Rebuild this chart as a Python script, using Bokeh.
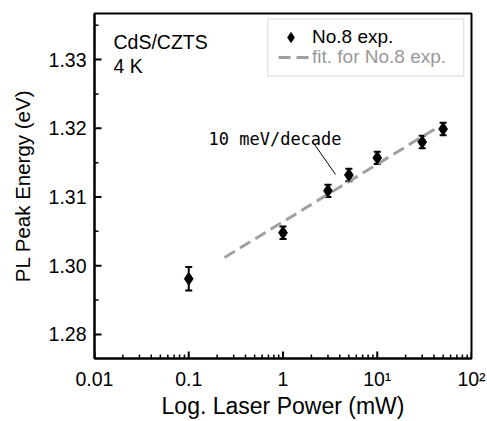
import math
from bokeh.plotting import figure
from bokeh.models import (ColumnDataSource, Whisker, TeeHead, Legend, LegendItem,
                          Label, Arrow, BoxAnnotation, FixedTicker, Range1d)
from bokeh.embed import file_html
from bokeh.resources import INLINE

# ---- data ----
power_mw = [0.1, 1, 3, 5, 10, 30, 50]
peak_ev = [1.2981, 1.3048, 1.3109, 1.3132, 1.3157, 1.3180, 1.3199]
err_ev = [0.0017, 0.0009, 0.0009, 0.0009, 0.0009, 0.0009, 0.0009]

fit_power_mw = [0.24, 42.0]
fit_ev = [1.3012, 1.3200]

x_tick_values = [0.01, 0.1, 1, 10, 100]
x_tick_labels = ["0.01", "0.1", "1", "10\u00b9", "10\u00b2"]
y_tick_values = [1.29, 1.30, 1.31, 1.32, 1.33]
y_tick_labels = ["1.28", "1.30", "1.31", "1.32", "1.33"]
y_minor_values = [1.295, 1.305, 1.315, 1.325, 1.335]

series_label = "No.8 exp."
fit_label = "fit. for No.8 exp."
sample_text = ["CdS/CZTS", "4 K"]
slope_text = "10 meV/decade"

FONT = "Liberation Sans"
GRAY = "#a0a0a0"

src = ColumnDataSource(dict(
    x=power_mw, y=peak_ev,
    upper=[v + e for v, e in zip(peak_ev, err_ev)],
    lower=[v - e for v, e in zip(peak_ev, err_ev)],
))

xr = Range1d(0.01, 100)
yr = Range1d(1.2865, 1.3367)
p = figure(width=487, height=421, x_axis_type="log", x_range=xr, y_range=yr,
           output_backend="svg", toolbar_location=None,
           min_border_left=94, min_border_right=16,
           min_border_top=13, min_border_bottom=62)
p.xgrid.visible = False
p.ygrid.visible = False
p.outline_line_color = "black"
p.outline_line_width = 2
p.outline_line_alpha = 1
p.background_fill_color = "white"
p.border_fill_color = "white"

x_minor = [m * 10.0 ** e for e in range(-2, 2) for m in range(2, 10)]
p.xaxis.ticker = FixedTicker(ticks=x_tick_values, minor_ticks=x_minor)
p.yaxis.ticker = FixedTicker(ticks=y_tick_values, minor_ticks=y_minor_values)
p.xaxis.major_label_overrides = dict(zip(x_tick_values, x_tick_labels))
p.yaxis.major_label_overrides = dict(zip(y_tick_values, y_tick_labels))

for ax in (p.xaxis[0], p.yaxis[0]):
    ax.axis_line_width = 2
    ax.axis_line_color = "black"
    ax.major_tick_in = 0
    ax.major_tick_out = 0
    ax.minor_tick_in = 0
    ax.minor_tick_out = 0
    ax.major_label_text_font = FONT
    ax.major_label_text_font_size = "19.5px"
    ax.major_label_text_color = "black"
    ax.axis_label_text_font = FONT
    ax.axis_label_text_font_style = "normal"
    ax.axis_label_text_color = "black"

p.xaxis.axis_label = "Log. Laser Power (mW)"
p.yaxis.axis_label = "PL Peak Energy (eV)"
p.xaxis.axis_label_text_font_size = "23px"
p.yaxis.axis_label_text_font_size = "20.5px"
p.xaxis.major_label_standoff = 9
p.xaxis.axis_label_standoff = 0
p.yaxis.major_label_standoff = 8
p.yaxis.axis_label_standoff = 12

# inward ticks, drawn as short rays from the frame edges into the plot
p.ray(x=x_tick_values, y=[yr.start] * len(x_tick_values), length=7,
      length_units="screen", angle=math.pi / 2, line_width=2, line_color="black")
p.ray(x=x_minor, y=[yr.start] * len(x_minor), length=4,
      length_units="screen", angle=math.pi / 2, line_width=1.5, line_color="black")
p.ray(x=[xr.start] * len(y_tick_values), y=y_tick_values, length=7,
      length_units="screen", angle=0, line_width=2, line_color="black")
p.ray(x=[xr.start] * len(y_minor_values), y=y_minor_values, length=4,
      length_units="screen", angle=0, line_width=1.5, line_color="black")

# fit line
fit_r = p.line(fit_power_mw, fit_ev, line_color=GRAY, line_width=3, line_dash="12 6")

# error bars
wh = Whisker(source=src, base="x", upper="upper", lower="lower", dimension="height",
             line_width=2, line_color="black",
             upper_head=TeeHead(size=7, line_width=2, line_color="black"),
             lower_head=TeeHead(size=7, line_width=2, line_color="black"))
p.add_layout(wh)

sc = p.scatter("x", "y", source=src, marker="diamond", size=13,
               fill_color="black", line_color="black")

# legend (two stacked legends so each label keeps its own colour)
common = dict(padding=0, margin=0, spacing=0, border_line_alpha=0,
              background_fill_alpha=0, label_text_font=FONT,
              label_text_font_size="19px")
leg1 = Legend(items=[LegendItem(label=series_label, renderers=[sc])],
              location=(184, 308), glyph_width=25, glyph_height=26,
              label_height=26, label_standoff=9, label_text_color="black", **common)
leg2 = Legend(items=[LegendItem(label=fit_label, renderers=[fit_r])],
              location=(184, 289), glyph_width=31, glyph_height=24,
              label_height=24, label_standoff=3, label_text_color="#999999", **common)
p.add_layout(leg1)
p.add_layout(leg2)
# legend frame, in data units of the plot
p.add_layout(BoxAnnotation(left=0.69, right=82.8, top=1.3359, bottom=1.3276,
                           fill_alpha=0, line_color="#808080", line_width=1))

# texts
txt = dict(x_units="screen", y_units="screen", text_font=FONT,
           text_font_size="19.5px", text_baseline="alphabetic", text_color="black")
p.add_layout(Label(x=19, y=317, text=sample_text[0], **txt))
p.add_layout(Label(x=19, y=293, text=sample_text[1], **txt))
p.add_layout(Label(x=114, y=220, x_units="screen", y_units="screen", text=slope_text,
                   text_font="DejaVu Sans Mono", text_font_size="17px",
                   text_baseline="alphabetic", text_color="black"))
p.add_layout(Arrow(end=None, x_start=218, y_start=217, x_end=241, y_end=184,
                   start_units="screen", end_units="screen",
                   line_width=1, line_color="black"))

open("out.html", "w").write(file_html(p, INLINE))
